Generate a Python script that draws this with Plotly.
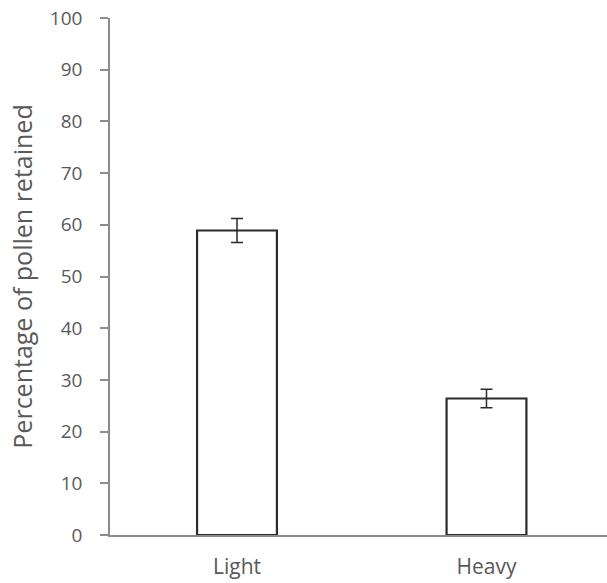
import plotly.graph_objects as go

categories = ["Light", "Heavy"]
values = [58.9, 26.4]
errors = [2.3, 1.8]
y_ticks = list(range(0, 101, 10))

fig = go.Figure()
fig.add_trace(go.Bar(
    x=categories, y=values,
    marker=dict(color="white", line=dict(color="#2b2b2b", width=2.2)),
    error_y=dict(type="data", array=errors, visible=True, color="#2b2b2b", thickness=1.5, width=6),
    width=0.32,
))

font_fam = "'Open Sans', sans-serif"
fig.update_layout(
    width=607, height=583,
    margin=dict(l=110, r=0, t=18, b=48),
    paper_bgcolor="white", plot_bgcolor="white",
    showlegend=False,
    font=dict(family=font_fam, color="#595959", size=19),
)
fig.update_xaxes(
    automargin=False,
    showline=True, linecolor="#8c8c8c", linewidth=1.5,
    ticks="", showgrid=False, tickfont=dict(size=21, color="#595959"),
    ticklabelstandoff=12,
    range=[-0.509, 1.483],
)
fig.update_yaxes(
    automargin=False,
    range=[0, 100], tickvals=y_ticks, showgrid=False, zeroline=False,
    showline=True, linecolor="#8c8c8c", linewidth=1.5,
    ticks="outside", ticklen=8, tickcolor="#8c8c8c", tickwidth=1.5,
    ticklabelstandoff=14,
    tickfont=dict(size=19, color="#595959"),
    title=dict(text="Percentage of pollen retained", font=dict(size=25, color="#595959"), standoff=10),
)
fig.write_html("out.html", config={"displayModeBar": False},
               post_script="document.body.style.margin='0';")
